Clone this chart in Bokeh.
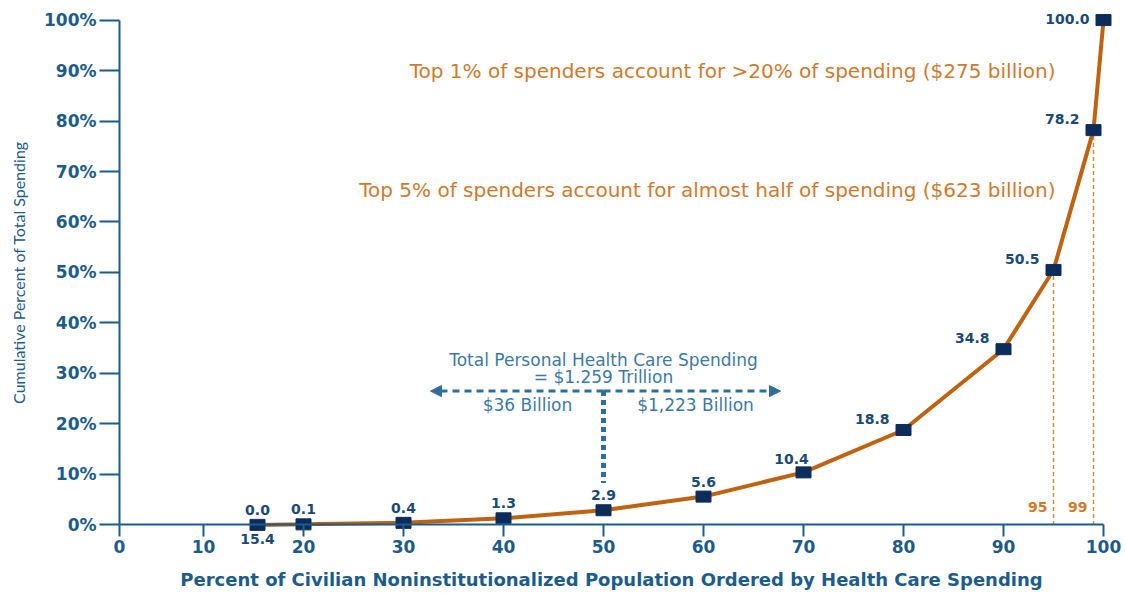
import math
from bokeh.plotting import figure
from bokeh.models import (ColumnDataSource, FixedTicker, Label, Arrow, NormalHead)
from bokeh.core.properties import value
from bokeh.embed import file_html
from bokeh.resources import INLINE

# ---- data ----
pop_pct = [15.4, 20, 30, 40, 50, 60, 70, 80, 90, 95, 99, 100]
cum_spend = [0.0, 0.1, 0.4, 1.3, 2.9, 5.6, 10.4, 18.8, 34.8, 50.5, 78.2, 100.0]
y_ticks = [0, 10, 20, 30, 40, 50, 60, 70, 80, 90, 100]
x_ticks = [10, 20, 30, 40, 50, 60, 70, 80, 90, 100]
marked_pcts = [95, 99]

AXIS = "#1c5c8c"
NAVY = "#0c2d5c"
ORANGE = "#c0620f"
ORANGE_T = "#d07a2e"
BLUE_T = "#3b7aa8"
LBL = "#1a4a78"

X0 = 1.6  # position of the y axis / origin label
p = figure(width=1124, height=593, output_backend="svg", toolbar_location=None,
           x_range=(X0 - 11.9, 102), y_range=(-13, 101.5),
           min_border_left=0, min_border_right=1, min_border_top=12,
           min_border_bottom=3)
p.outline_line_color = None
p.grid.visible = False
p.background_fill_color = "white"

# axes
xa = p.xaxis[0]
xa.fixed_location = 0
xa.ticker = FixedTicker(ticks=[X0] + x_ticks)
xa.major_label_overrides = {X0: "0"}
xa.bounds = (X0, 100)
ya = p.yaxis[0]
ya.fixed_location = X0
ya.ticker = FixedTicker(ticks=y_ticks)
ya.major_label_overrides = {t: f"{t}%" for t in y_ticks}
ya.bounds = (0, 100)
for ax in (xa, ya):
    ax.axis_line_color = AXIS
    ax.axis_line_width = 2
    ax.major_tick_line_color = AXIS
    ax.major_tick_line_width = 2
    ax.minor_tick_line_color = None
    ax.major_tick_in = 0
    ax.major_label_text_font = "DejaVu Sans"
    ax.major_label_text_font_style = "bold"
    ax.major_label_text_color = AXIS
    ax.major_label_text_font_size = "17px"
xa.major_tick_out = 12
xa.major_label_standoff = 3
ya.major_tick_out = 20
ya.major_label_standoff = 3

# axis titles (centred on the drawn axes)
p.add_layout(Label(x=(X0 + 100) / 2, y=-10.9,
                   text="Percent of Civilian Noninstitutionalized Population Ordered by Health Care Spending",
                   text_align="center", text_baseline="middle", text_color=AXIS,
                   text_font="DejaVu Sans", text_font_style="bold", text_font_size="18px"))
p.add_layout(Label(x=X0 - 10.1, y=50, angle=math.pi / 2,
                   text="Cumulative Percent of Total Spending",
                   text_align="center", text_baseline="middle", text_color=AXIS,
                   text_font="Lato", text_font_size="16px"))

src = ColumnDataSource(dict(x=pop_pct, y=cum_spend,
                            lab=[f"{v:.1f}" for v in cum_spend]))

# dashed guides at 95 and 99
gx = [x for x in pop_pct if x in marked_pcts]
gy = [cum_spend[pop_pct.index(x)] for x in gx]
gsrc = ColumnDataSource(dict(x=gx, y0=[0] * len(gx), y1=gy, lab=[str(x) for x in gx]))
p.segment(x0="x", y0="y0", x1="x", y1="y1", source=gsrc, line_color="#e08a3a",
          line_width=1.5, line_dash="4 3")
p.text(x="x", y=3.6, text="lab", source=gsrc, text_color=ORANGE_T,
       text_font=value("DejaVu Sans"), text_font_style="bold", text_font_size="14px",
       text_align="right", text_baseline="middle", x_offset=-6)

# curve + markers
p.line(x="x", y="y", source=src, line_color=ORANGE, line_width=4)
p.rect(x="x", y="y", width=15, height=11, width_units="screen", height_units="screen",
       source=src, fill_color=NAVY, line_color=NAVY)

# value labels
n = len(pop_pct)
xo, yo, al = [], [], []
for i in range(n):
    if i <= 5:
        xo.append(0); yo.append(-15); al.append("center")
    elif i == 6:
        xo.append(-12); yo.append(-13); al.append("center")
    elif i < n - 1:
        xo.append(-14); yo.append(-11); al.append("right")
    else:
        xo.append(-14); yo.append(-1); al.append("right")
src.data["xo"] = xo
src.data["yo"] = yo
src.data["al"] = al
p.text(x="x", y="y", text="lab", source=src, x_offset="xo", y_offset="yo",
       text_align="al", text_baseline="middle", text_color=LBL,
       text_font=value("DejaVu Sans"), text_font_style="bold", text_font_size="14px")
# population label under the first point
p.text(x=pop_pct[:1], y=cum_spend[:1], text=[f"{pop_pct[0]:.1f}"], y_offset=14,
       text_align="center", text_baseline="middle", text_color=LBL,
       text_font=value("DejaVu Sans"), text_font_style="bold", text_font_size="14px")

# orange annotations
for txt, yy in [("Top 1% of spenders account for >20% of spending ($275 billion)", 89.9),
                ("Top 5% of spenders account for almost half of spending ($623 billion)", 66.3)]:
    p.add_layout(Label(x=95.2, y=yy, text=txt, text_align="right", text_baseline="middle",
                       text_color=ORANGE_T, text_font="DejaVu Sans", text_font_size="20px"))

# blue annotation
for txt, xx, yy in [("Total Personal Health Care Spending", 50, 32.6),
                    ("= $1.259 Trillion", 50, 29.2),
                    ("$36 Billion", 42.4, 23.8),
                    ("$1,223 Billion", 59.2, 23.8)]:
    p.add_layout(Label(x=xx, y=yy, text=txt, text_align="center", text_baseline="middle",
                       text_color=BLUE_T, text_font="DejaVu Sans", text_font_size="17px"))
for x_end in (32.7, 67.7):
    p.add_layout(Arrow(x_start=50, x_end=x_end, y_start=26.5, y_end=26.5,
                       line_color="#2e6e9e", line_width=3, line_dash="7 5",
                       end=NormalHead(size=11, fill_color="#2e6e9e", line_color="#2e6e9e")))
p.segment(x0=[50], y0=[26.5], x1=[50], y1=[8.3], line_color="#2e6e9e", line_width=5,
          line_dash="5 4")

open("out.html", "w").write(file_html(p, INLINE))
